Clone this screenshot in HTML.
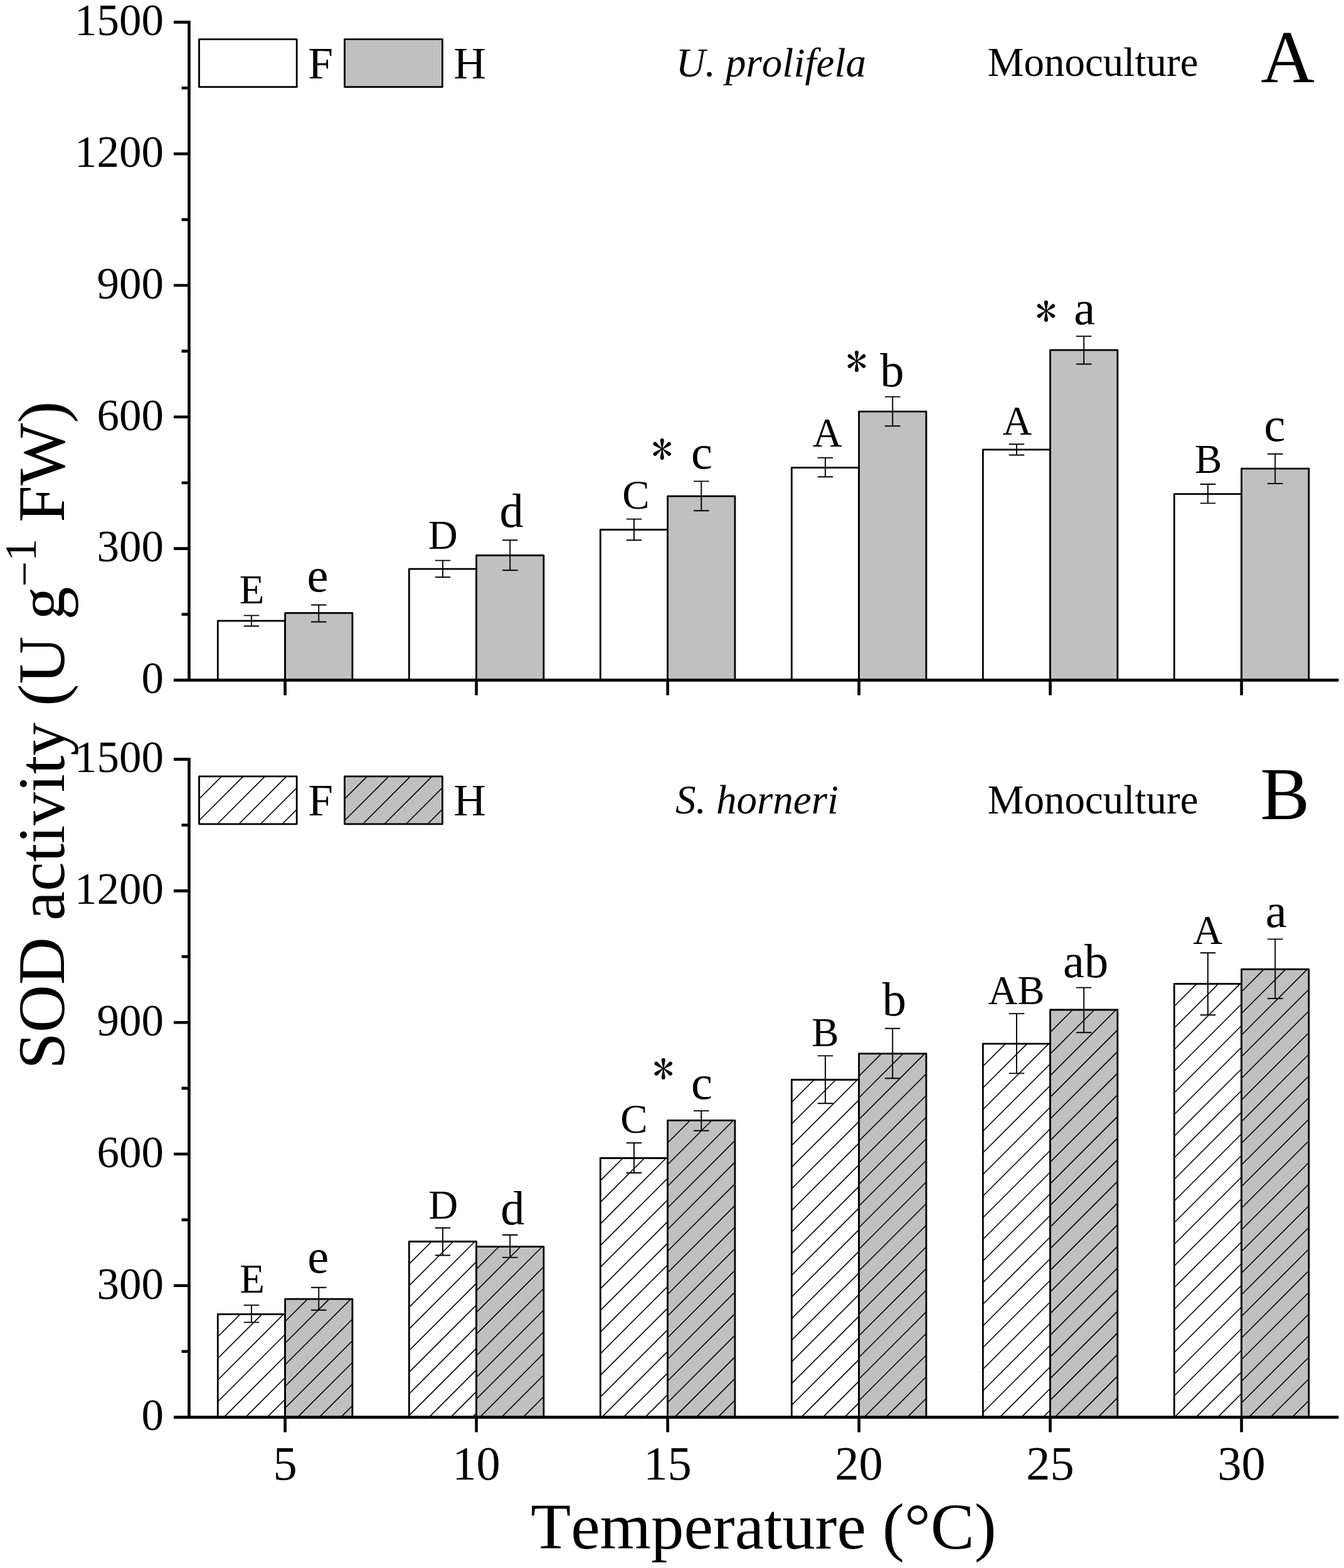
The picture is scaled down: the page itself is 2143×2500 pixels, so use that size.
<!DOCTYPE html>
<html><head><meta charset="utf-8"><title>SOD activity</title>
<style>html,body{margin:0;padding:0;background:#fff;}svg{display:block;}
text{font-family:"Liberation Serif",serif;fill:#000;font-kerning:none;font-feature-settings:"kern" 0;}.ast{font-family:"IPAGothic","Liberation Serif",serif;}</style></head>
<body><svg width="2143" height="2500" viewBox="0 0 2143 2500">
<rect width="2143" height="2500" fill="#fff"/>
<rect x="347.30" y="989.80" width="107.30" height="94.60" fill="#fff" stroke="none"/>
<path d="M347.30 1084.40V989.80H454.60V1084.40" stroke="#000" stroke-width="2.8" fill="none" stroke-linejoin="round"/>
<rect x="454.60" y="977.40" width="107.30" height="107.00" fill="#c0c0c0" stroke="none"/>
<path d="M454.60 1084.40V977.40H561.90V1084.40" stroke="#000" stroke-width="2.8" fill="none" stroke-linejoin="round"/>
<rect x="652.30" y="907.20" width="107.30" height="177.20" fill="#fff" stroke="none"/>
<path d="M652.30 1084.40V907.20H759.60V1084.40" stroke="#000" stroke-width="2.8" fill="none" stroke-linejoin="round"/>
<rect x="759.60" y="885.50" width="107.30" height="198.90" fill="#c0c0c0" stroke="none"/>
<path d="M759.60 1084.40V885.50H866.90V1084.40" stroke="#000" stroke-width="2.8" fill="none" stroke-linejoin="round"/>
<rect x="957.30" y="844.50" width="107.30" height="239.90" fill="#fff" stroke="none"/>
<path d="M957.30 1084.40V844.50H1064.60V1084.40" stroke="#000" stroke-width="2.8" fill="none" stroke-linejoin="round"/>
<rect x="1064.60" y="791.10" width="107.30" height="293.30" fill="#c0c0c0" stroke="none"/>
<path d="M1064.60 1084.40V791.10H1171.90V1084.40" stroke="#000" stroke-width="2.8" fill="none" stroke-linejoin="round"/>
<rect x="1262.30" y="745.70" width="107.30" height="338.70" fill="#fff" stroke="none"/>
<path d="M1262.30 1084.40V745.70H1369.60V1084.40" stroke="#000" stroke-width="2.8" fill="none" stroke-linejoin="round"/>
<rect x="1369.60" y="656.20" width="107.30" height="428.20" fill="#c0c0c0" stroke="none"/>
<path d="M1369.60 1084.40V656.20H1476.90V1084.40" stroke="#000" stroke-width="2.8" fill="none" stroke-linejoin="round"/>
<rect x="1567.30" y="716.80" width="107.30" height="367.60" fill="#fff" stroke="none"/>
<path d="M1567.30 1084.40V716.80H1674.60V1084.40" stroke="#000" stroke-width="2.8" fill="none" stroke-linejoin="round"/>
<rect x="1674.60" y="558.20" width="107.30" height="526.20" fill="#c0c0c0" stroke="none"/>
<path d="M1674.60 1084.40V558.20H1781.90V1084.40" stroke="#000" stroke-width="2.8" fill="none" stroke-linejoin="round"/>
<rect x="1872.30" y="787.60" width="107.30" height="296.80" fill="#fff" stroke="none"/>
<path d="M1872.30 1084.40V787.60H1979.60V1084.40" stroke="#000" stroke-width="2.8" fill="none" stroke-linejoin="round"/>
<rect x="1979.60" y="747.20" width="107.30" height="337.20" fill="#c0c0c0" stroke="none"/>
<path d="M1979.60 1084.40V747.20H2086.90V1084.40" stroke="#000" stroke-width="2.8" fill="none" stroke-linejoin="round"/>
<path d="M400.95 981.40V998.30M388.70 981.40H413.20M388.70 998.30H413.20" stroke="#000" stroke-width="1.9" fill="none"/>
<path d="M508.25 964.50V991.50M496.00 964.50H520.50M496.00 991.50H520.50" stroke="#000" stroke-width="1.9" fill="none"/>
<path d="M705.95 893.60V920.30M693.70 893.60H718.20M693.70 920.30H718.20" stroke="#000" stroke-width="1.9" fill="none"/>
<path d="M813.25 861.20V909.20M801.00 861.20H825.50M801.00 909.20H825.50" stroke="#000" stroke-width="1.9" fill="none"/>
<path d="M1010.95 827.60V861.30M998.70 827.60H1023.20M998.70 861.30H1023.20" stroke="#000" stroke-width="1.9" fill="none"/>
<path d="M1118.25 767.40V814.30M1106.00 767.40H1130.50M1106.00 814.30H1130.50" stroke="#000" stroke-width="1.9" fill="none"/>
<path d="M1315.95 729.90V760.30M1303.70 729.90H1328.20M1303.70 760.30H1328.20" stroke="#000" stroke-width="1.9" fill="none"/>
<path d="M1423.25 632.60V679.20M1411.00 632.60H1435.50M1411.00 679.20H1435.50" stroke="#000" stroke-width="1.9" fill="none"/>
<path d="M1620.95 708.20V725.50M1608.70 708.20H1633.20M1608.70 725.50H1633.20" stroke="#000" stroke-width="1.9" fill="none"/>
<path d="M1728.25 536.10V580.50M1716.00 536.10H1740.50M1716.00 580.50H1740.50" stroke="#000" stroke-width="1.9" fill="none"/>
<path d="M1925.95 772.00V802.40M1913.70 772.00H1938.20M1913.70 802.40H1938.20" stroke="#000" stroke-width="1.9" fill="none"/>
<path d="M2033.25 723.70V771.00M2021.00 723.70H2045.50M2021.00 771.00H2045.50" stroke="#000" stroke-width="1.9" fill="none"/>
<path d="M301.50 33.10V1086.70M299.20 1084.40H2134.50M277 1084.40H301.50M277 874.60H301.50M277 664.80H301.50M277 455.00H301.50M277 245.20H301.50M277 35.40H301.50M289.6 979.50H301.50M289.6 769.70H301.50M289.6 559.90H301.50M289.6 350.10H301.50M289.6 140.30H301.50M454.60 1084.40V1108.40M759.60 1084.40V1108.40M1064.60 1084.40V1108.40M1369.60 1084.40V1108.40M1674.60 1084.40V1108.40M1979.60 1084.40V1108.40" stroke="#000" stroke-width="4.6" fill="none"/>
<rect x="317.50" y="62.70" width="155.70" height="75.90" fill="#fff" stroke="none"/>
<path d="M317.50 138.60V62.70H473.20V138.60" stroke="#000" stroke-width="2.8" fill="none" stroke-linejoin="round"/>
<path d="M317.5 138.60H473.2" stroke="#000" stroke-width="2.8" stroke-linecap="round"/>
<rect x="549.50" y="62.70" width="155.90" height="75.90" fill="#c0c0c0" stroke="none"/>
<path d="M549.50 138.60V62.70H705.40V138.60" stroke="#000" stroke-width="2.8" fill="none" stroke-linejoin="round"/>
<path d="M549.5 138.60H705.4" stroke="#000" stroke-width="2.8" stroke-linecap="round"/>
<rect x="347.30" y="2095.40" width="107.30" height="164.20" fill="#fff" stroke="none"/>
<path d="M347.30 2096.80L348.70 2095.40M347.30 2131.30L383.20 2095.40M347.30 2165.80L417.70 2095.40M347.30 2200.30L452.20 2095.40M347.30 2234.80L454.60 2127.50M357.00 2259.60L454.60 2162.00M391.50 2259.60L454.60 2196.50M426.00 2259.60L454.60 2231.00" stroke="#000" stroke-width="1.6" fill="none"/>
<path d="M347.30 2259.60V2095.40H454.60V2259.60" stroke="#000" stroke-width="2.8" fill="none" stroke-linejoin="round"/>
<rect x="454.60" y="2071.10" width="107.30" height="188.50" fill="#c0c0c0" stroke="none"/>
<path d="M454.60 2072.50L456.00 2071.10M454.60 2107.00L490.50 2071.10M454.60 2141.50L525.00 2071.10M454.60 2176.00L559.50 2071.10M454.60 2210.50L561.90 2103.20M454.60 2245.00L561.90 2137.70M474.50 2259.60L561.90 2172.20M509.00 2259.60L561.90 2206.70M543.50 2259.60L561.90 2241.20" stroke="#000" stroke-width="1.6" fill="none"/>
<path d="M454.60 2259.60V2071.10H561.90V2259.60" stroke="#000" stroke-width="2.8" fill="none" stroke-linejoin="round"/>
<rect x="652.30" y="1979.50" width="107.30" height="280.10" fill="#fff" stroke="none"/>
<path d="M652.30 1980.90L653.70 1979.50M652.30 2015.40L688.20 1979.50M652.30 2049.90L722.70 1979.50M652.30 2084.40L757.20 1979.50M652.30 2118.90L759.60 2011.60M652.30 2153.40L759.60 2046.10M652.30 2187.90L759.60 2080.60M652.30 2222.40L759.60 2115.10M652.30 2256.90L759.60 2149.60M684.10 2259.60L759.60 2184.10M718.60 2259.60L759.60 2218.60M753.10 2259.60L759.60 2253.10" stroke="#000" stroke-width="1.6" fill="none"/>
<path d="M652.30 2259.60V1979.50H759.60V2259.60" stroke="#000" stroke-width="2.8" fill="none" stroke-linejoin="round"/>
<rect x="759.60" y="1987.70" width="107.30" height="271.90" fill="#c0c0c0" stroke="none"/>
<path d="M759.60 1989.10L761.00 1987.70M759.60 2023.60L795.50 1987.70M759.60 2058.10L830.00 1987.70M759.60 2092.60L864.50 1987.70M759.60 2127.10L866.90 2019.80M759.60 2161.60L866.90 2054.30M759.60 2196.10L866.90 2088.80M759.60 2230.60L866.90 2123.30M765.10 2259.60L866.90 2157.80M799.60 2259.60L866.90 2192.30M834.10 2259.60L866.90 2226.80" stroke="#000" stroke-width="1.6" fill="none"/>
<path d="M759.60 2259.60V1987.70H866.90V2259.60" stroke="#000" stroke-width="2.8" fill="none" stroke-linejoin="round"/>
<rect x="957.30" y="1846.50" width="107.30" height="413.10" fill="#fff" stroke="none"/>
<path d="M957.30 1847.90L958.70 1846.50M957.30 1882.40L993.20 1846.50M957.30 1916.90L1027.70 1846.50M957.30 1951.40L1062.20 1846.50M957.30 1985.90L1064.60 1878.60M957.30 2020.40L1064.60 1913.10M957.30 2054.90L1064.60 1947.60M957.30 2089.40L1064.60 1982.10M957.30 2123.90L1064.60 2016.60M957.30 2158.40L1064.60 2051.10M957.30 2192.90L1064.60 2085.60M957.30 2227.40L1064.60 2120.10M959.60 2259.60L1064.60 2154.60M994.10 2259.60L1064.60 2189.10M1028.60 2259.60L1064.60 2223.60M1063.10 2259.60L1064.60 2258.10" stroke="#000" stroke-width="1.6" fill="none"/>
<path d="M957.30 2259.60V1846.50H1064.60V2259.60" stroke="#000" stroke-width="2.8" fill="none" stroke-linejoin="round"/>
<rect x="1064.60" y="1786.30" width="107.30" height="473.30" fill="#c0c0c0" stroke="none"/>
<path d="M1064.60 1787.70L1066.00 1786.30M1064.60 1822.20L1100.50 1786.30M1064.60 1856.70L1135.00 1786.30M1064.60 1891.20L1169.50 1786.30M1064.60 1925.70L1171.90 1818.40M1064.60 1960.20L1171.90 1852.90M1064.60 1994.70L1171.90 1887.40M1064.60 2029.20L1171.90 1921.90M1064.60 2063.70L1171.90 1956.40M1064.60 2098.20L1171.90 1990.90M1064.60 2132.70L1171.90 2025.40M1064.60 2167.20L1171.90 2059.90M1064.60 2201.70L1171.90 2094.40M1064.60 2236.20L1171.90 2128.90M1075.70 2259.60L1171.90 2163.40M1110.20 2259.60L1171.90 2197.90M1144.70 2259.60L1171.90 2232.40" stroke="#000" stroke-width="1.6" fill="none"/>
<path d="M1064.60 2259.60V1786.30H1171.90V2259.60" stroke="#000" stroke-width="2.8" fill="none" stroke-linejoin="round"/>
<rect x="1262.30" y="1721.50" width="107.30" height="538.10" fill="#fff" stroke="none"/>
<path d="M1262.30 1722.90L1263.70 1721.50M1262.30 1757.40L1298.20 1721.50M1262.30 1791.90L1332.70 1721.50M1262.30 1826.40L1367.20 1721.50M1262.30 1860.90L1369.60 1753.60M1262.30 1895.40L1369.60 1788.10M1262.30 1929.90L1369.60 1822.60M1262.30 1964.40L1369.60 1857.10M1262.30 1998.90L1369.60 1891.60M1262.30 2033.40L1369.60 1926.10M1262.30 2067.90L1369.60 1960.60M1262.30 2102.40L1369.60 1995.10M1262.30 2136.90L1369.60 2029.60M1262.30 2171.40L1369.60 2064.10M1262.30 2205.90L1369.60 2098.60M1262.30 2240.40L1369.60 2133.10M1277.60 2259.60L1369.60 2167.60M1312.10 2259.60L1369.60 2202.10M1346.60 2259.60L1369.60 2236.60" stroke="#000" stroke-width="1.6" fill="none"/>
<path d="M1262.30 2259.60V1721.50H1369.60V2259.60" stroke="#000" stroke-width="2.8" fill="none" stroke-linejoin="round"/>
<rect x="1369.60" y="1679.90" width="107.30" height="579.70" fill="#c0c0c0" stroke="none"/>
<path d="M1369.60 1681.30L1371.00 1679.90M1369.60 1715.80L1405.50 1679.90M1369.60 1750.30L1440.00 1679.90M1369.60 1784.80L1474.50 1679.90M1369.60 1819.30L1476.90 1712.00M1369.60 1853.80L1476.90 1746.50M1369.60 1888.30L1476.90 1781.00M1369.60 1922.80L1476.90 1815.50M1369.60 1957.30L1476.90 1850.00M1369.60 1991.80L1476.90 1884.50M1369.60 2026.30L1476.90 1919.00M1369.60 2060.80L1476.90 1953.50M1369.60 2095.30L1476.90 1988.00M1369.60 2129.80L1476.90 2022.50M1369.60 2164.30L1476.90 2057.00M1369.60 2198.80L1476.90 2091.50M1369.60 2233.30L1476.90 2126.00M1377.80 2259.60L1476.90 2160.50M1412.30 2259.60L1476.90 2195.00M1446.80 2259.60L1476.90 2229.50" stroke="#000" stroke-width="1.6" fill="none"/>
<path d="M1369.60 2259.60V1679.90H1476.90V2259.60" stroke="#000" stroke-width="2.8" fill="none" stroke-linejoin="round"/>
<rect x="1567.30" y="1664.10" width="107.30" height="595.50" fill="#fff" stroke="none"/>
<path d="M1567.30 1665.50L1568.70 1664.10M1567.30 1700.00L1603.20 1664.10M1567.30 1734.50L1637.70 1664.10M1567.30 1769.00L1672.20 1664.10M1567.30 1803.50L1674.60 1696.20M1567.30 1838.00L1674.60 1730.70M1567.30 1872.50L1674.60 1765.20M1567.30 1907.00L1674.60 1799.70M1567.30 1941.50L1674.60 1834.20M1567.30 1976.00L1674.60 1868.70M1567.30 2010.50L1674.60 1903.20M1567.30 2045.00L1674.60 1937.70M1567.30 2079.50L1674.60 1972.20M1567.30 2114.00L1674.60 2006.70M1567.30 2148.50L1674.60 2041.20M1567.30 2183.00L1674.60 2075.70M1567.30 2217.50L1674.60 2110.20M1567.30 2252.00L1674.60 2144.70M1594.20 2259.60L1674.60 2179.20M1628.70 2259.60L1674.60 2213.70M1663.20 2259.60L1674.60 2248.20" stroke="#000" stroke-width="1.6" fill="none"/>
<path d="M1567.30 2259.60V1664.10H1674.60V2259.60" stroke="#000" stroke-width="2.8" fill="none" stroke-linejoin="round"/>
<rect x="1674.60" y="1610.00" width="107.30" height="649.60" fill="#c0c0c0" stroke="none"/>
<path d="M1674.60 1611.40L1676.00 1610.00M1674.60 1645.90L1710.50 1610.00M1674.60 1680.40L1745.00 1610.00M1674.60 1714.90L1779.50 1610.00M1674.60 1749.40L1781.90 1642.10M1674.60 1783.90L1781.90 1676.60M1674.60 1818.40L1781.90 1711.10M1674.60 1852.90L1781.90 1745.60M1674.60 1887.40L1781.90 1780.10M1674.60 1921.90L1781.90 1814.60M1674.60 1956.40L1781.90 1849.10M1674.60 1990.90L1781.90 1883.60M1674.60 2025.40L1781.90 1918.10M1674.60 2059.90L1781.90 1952.60M1674.60 2094.40L1781.90 1987.10M1674.60 2128.90L1781.90 2021.60M1674.60 2163.40L1781.90 2056.10M1674.60 2197.90L1781.90 2090.60M1674.60 2232.40L1781.90 2125.10M1681.90 2259.60L1781.90 2159.60M1716.40 2259.60L1781.90 2194.10M1750.90 2259.60L1781.90 2228.60" stroke="#000" stroke-width="1.6" fill="none"/>
<path d="M1674.60 2259.60V1610.00H1781.90V2259.60" stroke="#000" stroke-width="2.8" fill="none" stroke-linejoin="round"/>
<rect x="1872.30" y="1568.60" width="107.30" height="691.00" fill="#fff" stroke="none"/>
<path d="M1872.30 1570.00L1873.70 1568.60M1872.30 1604.50L1908.20 1568.60M1872.30 1639.00L1942.70 1568.60M1872.30 1673.50L1977.20 1568.60M1872.30 1708.00L1979.60 1600.70M1872.30 1742.50L1979.60 1635.20M1872.30 1777.00L1979.60 1669.70M1872.30 1811.50L1979.60 1704.20M1872.30 1846.00L1979.60 1738.70M1872.30 1880.50L1979.60 1773.20M1872.30 1915.00L1979.60 1807.70M1872.30 1949.50L1979.60 1842.20M1872.30 1984.00L1979.60 1876.70M1872.30 2018.50L1979.60 1911.20M1872.30 2053.00L1979.60 1945.70M1872.30 2087.50L1979.60 1980.20M1872.30 2122.00L1979.60 2014.70M1872.30 2156.50L1979.60 2049.20M1872.30 2191.00L1979.60 2083.70M1872.30 2225.50L1979.60 2118.20M1872.70 2259.60L1979.60 2152.70M1907.20 2259.60L1979.60 2187.20M1941.70 2259.60L1979.60 2221.70M1976.20 2259.60L1979.60 2256.20" stroke="#000" stroke-width="1.6" fill="none"/>
<path d="M1872.30 2259.60V1568.60H1979.60V2259.60" stroke="#000" stroke-width="2.8" fill="none" stroke-linejoin="round"/>
<rect x="1979.60" y="1545.40" width="107.30" height="714.20" fill="#c0c0c0" stroke="none"/>
<path d="M1979.60 1546.80L1981.00 1545.40M1979.60 1581.30L2015.50 1545.40M1979.60 1615.80L2050.00 1545.40M1979.60 1650.30L2084.50 1545.40M1979.60 1684.80L2086.90 1577.50M1979.60 1719.30L2086.90 1612.00M1979.60 1753.80L2086.90 1646.50M1979.60 1788.30L2086.90 1681.00M1979.60 1822.80L2086.90 1715.50M1979.60 1857.30L2086.90 1750.00M1979.60 1891.80L2086.90 1784.50M1979.60 1926.30L2086.90 1819.00M1979.60 1960.80L2086.90 1853.50M1979.60 1995.30L2086.90 1888.00M1979.60 2029.80L2086.90 1922.50M1979.60 2064.30L2086.90 1957.00M1979.60 2098.80L2086.90 1991.50M1979.60 2133.30L2086.90 2026.00M1979.60 2167.80L2086.90 2060.50M1979.60 2202.30L2086.90 2095.00M1979.60 2236.80L2086.90 2129.50M1991.30 2259.60L2086.90 2164.00M2025.80 2259.60L2086.90 2198.50M2060.30 2259.60L2086.90 2233.00" stroke="#000" stroke-width="1.6" fill="none"/>
<path d="M1979.60 2259.60V1545.40H2086.90V2259.60" stroke="#000" stroke-width="2.8" fill="none" stroke-linejoin="round"/>
<path d="M400.95 2080.90V2108.40M388.70 2080.90H413.20M388.70 2108.40H413.20" stroke="#000" stroke-width="1.9" fill="none"/>
<path d="M508.25 2052.80V2088.70M496.00 2052.80H520.50M496.00 2088.70H520.50" stroke="#000" stroke-width="1.9" fill="none"/>
<path d="M705.95 1957.80V2001.50M693.70 1957.80H718.20M693.70 2001.50H718.20" stroke="#000" stroke-width="1.9" fill="none"/>
<path d="M813.25 1969.00V2004.90M801.00 1969.00H825.50M801.00 2004.90H825.50" stroke="#000" stroke-width="1.9" fill="none"/>
<path d="M1010.95 1822.30V1870.00M998.70 1822.30H1023.20M998.70 1870.00H1023.20" stroke="#000" stroke-width="1.9" fill="none"/>
<path d="M1118.25 1771.10V1802.80M1106.00 1771.10H1130.50M1106.00 1802.80H1130.50" stroke="#000" stroke-width="1.9" fill="none"/>
<path d="M1315.95 1683.40V1759.30M1303.70 1683.40H1328.20M1303.70 1759.30H1328.20" stroke="#000" stroke-width="1.9" fill="none"/>
<path d="M1423.25 1639.70V1719.20M1411.00 1639.70H1435.50M1411.00 1719.20H1435.50" stroke="#000" stroke-width="1.9" fill="none"/>
<path d="M1620.95 1616.10V1711.40M1608.70 1616.10H1633.20M1608.70 1711.40H1633.20" stroke="#000" stroke-width="1.9" fill="none"/>
<path d="M1728.25 1574.60V1646.20M1716.00 1574.60H1740.50M1716.00 1646.20H1740.50" stroke="#000" stroke-width="1.9" fill="none"/>
<path d="M1925.95 1519.30V1618.20M1913.70 1519.30H1938.20M1913.70 1618.20H1938.20" stroke="#000" stroke-width="1.9" fill="none"/>
<path d="M2033.25 1497.40V1592.00M2021.00 1497.40H2045.50M2021.00 1592.00H2045.50" stroke="#000" stroke-width="1.9" fill="none"/>
<path d="M301.50 1208.30V2261.90M299.20 2259.60H2134.50M277 2259.60H301.50M277 2049.80H301.50M277 1840.00H301.50M277 1630.20H301.50M277 1420.40H301.50M277 1210.60H301.50M289.6 2154.70H301.50M289.6 1944.90H301.50M289.6 1735.10H301.50M289.6 1525.30H301.50M289.6 1315.50H301.50M454.60 2259.60V2283.60M759.60 2259.60V2283.60M1064.60 2259.60V2283.60M1369.60 2259.60V2283.60M1674.60 2259.60V2283.60M1979.60 2259.60V2283.60" stroke="#000" stroke-width="4.6" fill="none"/>
<rect x="317.50" y="1237.90" width="155.70" height="75.90" fill="#fff" stroke="none"/>
<path d="M317.50 1239.30L318.90 1237.90M317.50 1273.80L353.40 1237.90M317.50 1308.30L387.90 1237.90M346.50 1313.80L422.40 1237.90M381.00 1313.80L456.90 1237.90M415.50 1313.80L473.20 1256.10M450.00 1313.80L473.20 1290.60" stroke="#000" stroke-width="1.6" fill="none"/>
<path d="M317.50 1313.80V1237.90H473.20V1313.80" stroke="#000" stroke-width="2.8" fill="none" stroke-linejoin="round"/>
<path d="M317.5 1313.80H473.2" stroke="#000" stroke-width="2.8" stroke-linecap="round"/>
<rect x="549.50" y="1237.90" width="155.90" height="75.90" fill="#c0c0c0" stroke="none"/>
<path d="M549.50 1239.30L550.90 1237.90M549.50 1273.80L585.40 1237.90M549.50 1308.30L619.90 1237.90M578.50 1313.80L654.40 1237.90M613.00 1313.80L688.90 1237.90M647.50 1313.80L705.40 1255.90M682.00 1313.80L705.40 1290.40" stroke="#000" stroke-width="1.6" fill="none"/>
<path d="M549.50 1313.80V1237.90H705.40V1313.80" stroke="#000" stroke-width="2.8" fill="none" stroke-linejoin="round"/>
<path d="M549.5 1313.80H705.4" stroke="#000" stroke-width="2.8" stroke-linecap="round"/>
<text x="225.60" y="1105.11" font-size="71.0">0</text>
<text x="154.60" y="895.31" font-size="71.0">300</text>
<text x="154.60" y="685.51" font-size="71.0">600</text>
<text x="154.60" y="475.71" font-size="71.0">900</text>
<text x="119.10" y="265.91" font-size="71.0">1200</text>
<text x="119.10" y="56.11" font-size="71.0">1500</text>
<text x="491.14" y="124.80" font-size="71.5">F</text>
<text x="723.14" y="124.80" font-size="71.5">H</text>
<text x="1574.73" y="121.40" font-size="65">Monoculture</text>
<text x="225.60" y="2280.31" font-size="71.0">0</text>
<text x="154.60" y="2070.51" font-size="71.0">300</text>
<text x="154.60" y="1860.71" font-size="71.0">600</text>
<text x="154.60" y="1650.91" font-size="71.0">900</text>
<text x="119.10" y="1441.11" font-size="71.0">1200</text>
<text x="119.10" y="1231.31" font-size="71.0">1500</text>
<text x="491.14" y="1300.00" font-size="71.5">F</text>
<text x="723.14" y="1300.00" font-size="71.5">H</text>
<text x="1574.73" y="1296.60" font-size="65">Monoculture</text>
<text x="1077.63" y="121.80" font-size="65" font-style="italic">U. prolifela</text>
<text x="1077.04" y="1296.80" font-size="65" font-style="italic">S. horneri</text>
<text x="2010.24" y="130.90" font-size="119">A</text>
<text x="2009.60" y="1305.55" font-size="118">B</text>
<text x="381.73" y="962.20" font-size="65">E</text>
<text x="489.50" y="942.85" font-size="76.5">e</text>
<text x="682.79" y="875.27" font-size="65">D</text>
<text x="796.61" y="840.35" font-size="76.5">d</text>
<text x="992.23" y="811.37" font-size="65">C</text>
<text x="1102.04" y="747.25" font-size="76.5">c</text>
<text x="1295.70" y="711.60" font-size="65">A</text>
<text x="1403.28" y="615.65" font-size="76.5">b</text>
<text x="1598.40" y="692.70" font-size="65">A</text>
<text x="1712.30" y="516.65" font-size="76.5">a</text>
<text x="1904.92" y="753.51" font-size="65">B</text>
<text x="2015.59" y="703.25" font-size="76.5">c</text>
<text x="382.33" y="2061.20" font-size="65">E</text>
<text x="490.20" y="2028.85" font-size="76.5">e</text>
<text x="683.29" y="1942.57" font-size="65">D</text>
<text x="798.31" y="1951.65" font-size="76.5">d</text>
<text x="989.28" y="1806.07" font-size="65">C</text>
<text x="1102.09" y="1752.45" font-size="76.5">c</text>
<text x="1294.17" y="1668.31" font-size="65">B</text>
<text x="1406.68" y="1619.35" font-size="76.5">b</text>
<text x="1575.42" y="1601.01" font-size="65">AB</text>
<text x="1695.11" y="1557.85" font-size="76.5">ab</text>
<text x="1902.30" y="1504.90" font-size="65">A</text>
<text x="2017.85" y="1477.65" font-size="76.5">a</text>
<text x="1038.83" y="742.03" font-size="68" class="ast">*</text>
<text x="1348.88" y="602.43" font-size="68" class="ast">*</text>
<text x="1650.93" y="521.73" font-size="68" class="ast">*</text>
<text x="1040.83" y="1730.43" font-size="68" class="ast">*</text>
<text x="454.60" y="2358.6" font-size="76.5" text-anchor="middle">5</text>
<text x="759.60" y="2358.6" font-size="76.5" text-anchor="middle">10</text>
<text x="1064.60" y="2358.6" font-size="76.5" text-anchor="middle">15</text>
<text x="1369.60" y="2358.6" font-size="76.5" text-anchor="middle">20</text>
<text x="1674.60" y="2358.6" font-size="76.5" text-anchor="middle">25</text>
<text x="1979.60" y="2358.6" font-size="76.5" text-anchor="middle">30</text>
<text x="846.21" y="2469.00" font-size="104.7">Temperature (°C)</text>
<text transform="translate(101.8 1704.74) rotate(-90)" x="0" y="0" font-size="105.3">SOD activity (U g<tspan font-size="72" dy="-38.5">−</tspan><tspan font-size="72" dy="-5.9">1</tspan><tspan dy="44.4"> FW)</tspan></text>
</svg></body></html>
